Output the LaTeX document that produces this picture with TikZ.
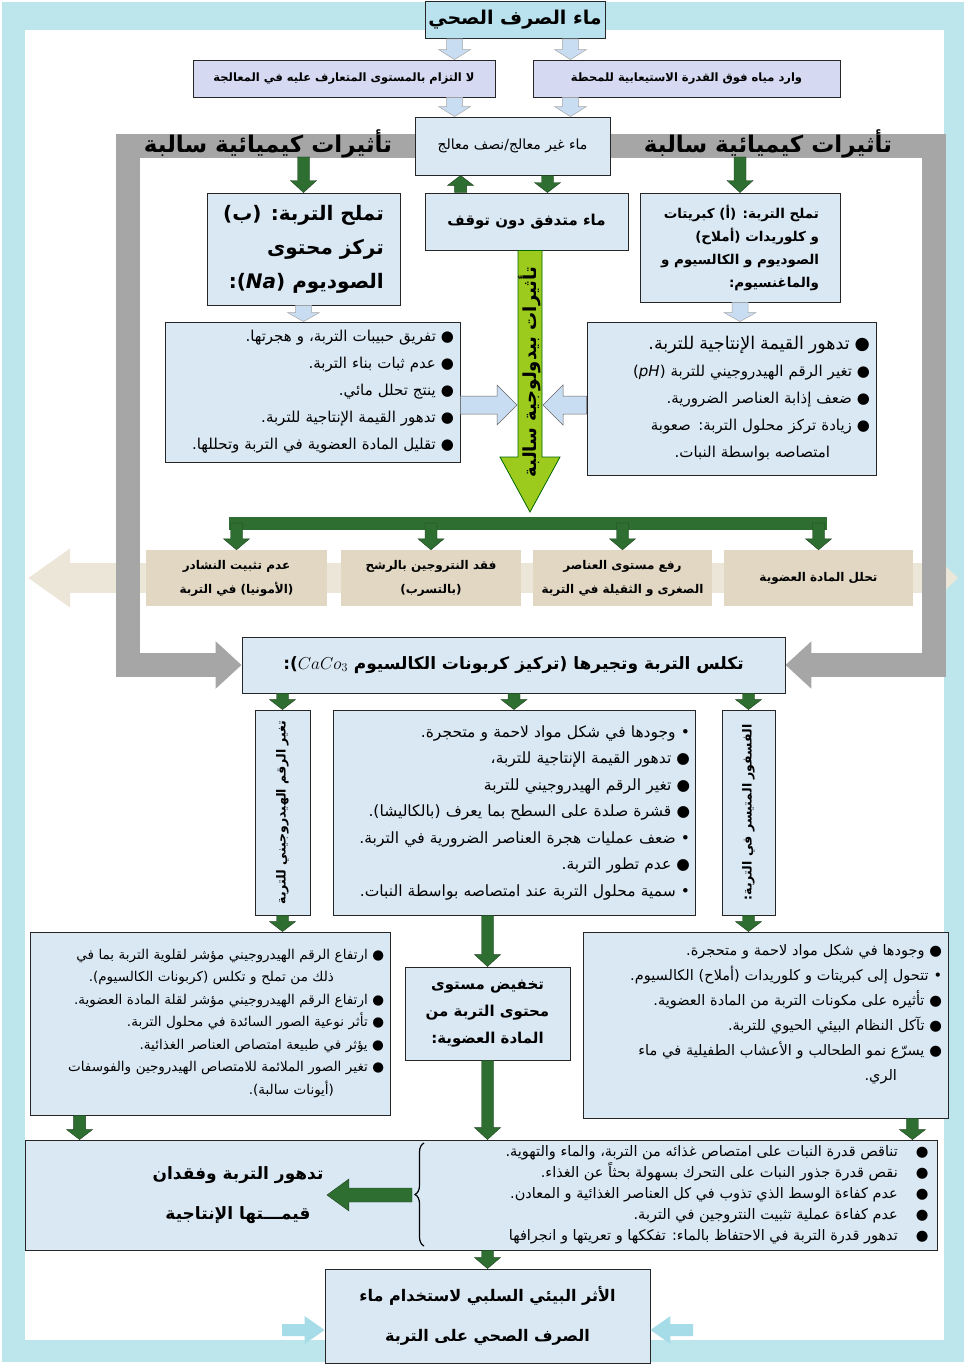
\documentclass[tikz,border=0pt]{standalone}
\usepackage{fontspec}
\usetikzlibrary{arrows.meta,calc,decorations.pathreplacing}
\newfontfamily\arabicfont[Script=Arabic]{DejaVu Sans}
\TeXXeTstate=1
\newcommand\ar[1]{\beginR #1\endR}
% vertical block arrow: style, from, to, half shaft, half head, signed head length
\newcommand\varr[6]{\draw[#1] let \p1=(#2), \p2=(#3) in (\x1-#4,\y1) -- (\x1-#4,\y2#6) -- (\x1-#5,\y2#6) -- (\x1,\y2) -- (\x1+#5,\y2#6) -- (\x1+#4,\y2#6) -- (\x1+#4,\y1) -- cycle;}
% horizontal block arrow
\newcommand\harr[6]{\draw[#1] let \p1=(#2), \p2=(#3) in (\x1,\y1-#4) -- (\x2#6,\y1-#4) -- (\x2#6,\y1-#5) -- (\x2,\y1) -- (\x2#6,\y1+#5) -- (\x2#6,\y1+#4) -- (\x1,\y1+#4) -- cycle;}
\definecolor{framecyan}{HTML}{BDE5EC}
\definecolor{boxblue}{HTML}{DAE8F4}
\definecolor{lavbox}{HTML}{D5DAF2}
\definecolor{titlecyan}{HTML}{B9E2EE}
\definecolor{arrowblue}{HTML}{C9DDF2}
\definecolor{dgreen}{HTML}{2F6E31}
\definecolor{ygreen}{HTML}{9CCB1E}
\definecolor{bandgrey}{HTML}{A6A6A6}
\definecolor{beigebox}{HTML}{E1D7C3}
\definecolor{beigearr}{HTML}{ECE6D8}
\definecolor{sidecyan}{HTML}{A6DCE7}
\pgfdeclarelayer{bg}
\pgfsetlayers{bg,main}
\tikzset{
  box/.style={draw=black!85, line width=0.9pt, fill=boxblue, inner sep=3pt},
  lba/.style={fill=arrowblue, draw=black!35, line width=0.5pt},
  ga/.style={fill=dgreen, draw=dgreen!60!black, line width=0.4pt},
  ya/.style={fill=ygreen, draw=black!60!green, line width=0.8pt},
  sa/.style={fill=sidecyan, draw=none},
  beige/.style={fill=beigebox, draw=none, minimum height=56pt, align=center,
    font=\arabicfont\bfseries\fontsize{12}{24}\selectfont},
  bandlabel/.style={font=\arabicfont\bfseries\fontsize{23}{26}\selectfont, text=black},
  vbox/.style={box, rotate=90, minimum width=205pt, font=\arabicfont\bfseries\fontsize{12.5}{14}\selectfont},
}
\begin{document}
\begin{tikzpicture}[x=1pt,y=-1pt]
\useasboundingbox (0,0) rectangle (966,1364);

% ---------- nodes ----------
\node[box, fill=titlecyan, minimum width=180pt, minimum height=37pt,
  font=\arabicfont\bfseries\fontsize{19}{22}\selectfont] (top) at (515,20) {\ar{ماء الصرف الصحي}};
\node[box, fill=lavbox, minimum width=302pt, minimum height=37pt,
  font=\arabicfont\bfseries\fontsize{11.5}{14}\selectfont] (r1L) at (344,78.5) {\ar{لا التزام بالمستوى المتعارف عليه في المعالجة}};
\node[box, fill=lavbox, minimum width=307pt, minimum height=37pt,
  font=\arabicfont\bfseries\fontsize{11.5}{14}\selectfont] (r1R) at (686.5,78.5) {\ar{وارد مياه فوق القدرة الاستيعابية للمحطة}};
\node[box, minimum width=195pt, minimum height=58pt,
  font=\arabicfont\fontsize{14}{16}\selectfont] (cen) at (512.5,146) {\ar{ماء غير معالج/نصف معالج}};

\node[box, minimum width=193pt, minimum height=112pt, align=right,
  font=\arabicfont\bfseries\fontsize{20}{34}\selectfont] (r2L) at (303.5,249)
  {\ar{تملح التربة: (ب)}\\\ar{تركز محتوى}\\\ar{الصوديوم (\beginL\textit{Na}\endL):}};
\node[box, minimum width=203pt, minimum height=57pt,
  font=\arabicfont\bfseries\fontsize{15}{18}\selectfont] (r2C) at (526.5,221.5) {\ar{ماء متدفق دون توقف}};
\node[box, minimum width=200pt, minimum height=109pt, align=right,
  font=\arabicfont\bfseries\fontsize{13.5}{23}\selectfont] (r2R) at (740,247.5)
  {\ar{تملح التربة: (أ) كبريتات}\\\ar{و كلوريدات (أملاح)}\\\ar{الصوديوم و الكالسيوم و}\\\ar{والماغنسيوم:}};

\node[box, minimum width=295pt, minimum height=140pt, text width=283pt, align=right,
  font=\arabicfont\fontsize{15}{27}\selectfont] (b1L) at (312.5,392)
  {\ar{● تفريق حبيبات التربة، و هجرتها.}\\
   \ar{● عدم ثبات بناء التربة.}\\
   \ar{● ينتج تحلل مائي.}\\
   \ar{● تدهور القيمة الإنتاجية للتربة.}\\
   \ar{● تقليل المادة العضوية في التربة وتحللها.}};
\node[box, minimum width=289pt, minimum height=153pt, text width=277pt, align=right,
  font=\arabicfont\fontsize{15}{27}\selectfont] (b1R) at (731.5,398.5)
  {\ar{{\fontsize{17.5}{27}\selectfont ● تدهور القيمة الإنتاجية للتربة.}}\\
   \ar{● تغير الرقم الهيدروجيني للتربة (\beginL\textit{pH}\endL)}\\
   \ar{● ضعف إذابة العناصر الضرورية.}\\
   \ar{● زيادة تركز محلول التربة: صعوبة}\\
   \ar{\hspace*{40pt}امتصاصه بواسطة النبات.}};

\node[beige, minimum width=181pt] (e1) at (236.5,578) {\ar{عدم تثبيت النشادر}\\\ar{(الأمونيا) في التربة}};
\node[beige, minimum width=180pt] (e2) at (431,578) {\ar{فقد النتروجين بالرشح}\\\ar{(بالتسرب)}};
\node[beige, minimum width=179pt] (e3) at (622.5,578) {\ar{رفع مستوى العناصر}\\\ar{الصغرى و الثقيلة في التربة}};
\node[beige, minimum width=189pt] (e4) at (818.5,578) {\ar{تحلل المادة العضوية}};

\node[box, minimum width=543pt, minimum height=56pt,
  font=\arabicfont\bfseries\fontsize{17}{20}\selectfont] (calc) at (513.5,665)
  {\ar{تكلس التربة وتجيرها (تركيز كربونات الكالسيوم \beginL$CaCo_3$\endL):}};

\node[vbox, minimum height=55pt] (vL) at (282.5,812.5) {\ar{تغير الرقم الهيدروجيني للتربة}};
\node[box, minimum width=362pt, minimum height=205pt, text width=352pt, align=right,
  font=\arabicfont\fontsize{15.5}{26.5}\selectfont] (vC) at (514,812.5)
  {\ar{• وجودها في شكل مواد لاحمة و متحجرة.}\\
   \ar{● تدهور القيمة الإنتاجية للتربة،}\\
   \ar{● تغير الرقم الهيدروجيني للتربة}\\
   \ar{● قشرة صلدة على السطح بما يعرف (بالكاليشا).}\\
   \ar{• ضعف عمليات هجرة العناصر الضرورية في التربة.}\\
   \ar{● عدم تطور التربة.}\\
   \ar{• سمية محلول التربة عند امتصاصه بواسطة النبات.}};
\node[vbox, minimum height=53pt] (vR) at (748.5,812.5) {\ar{الفسفور المتيسر في التربة:}};

\node[box, minimum width=360pt, minimum height=183pt, text width=348pt, align=right,
  font=\arabicfont\fontsize{13.5}{22.5}\selectfont] (bL) at (210,1023.5)
  {\ar{● ارتفاع الرقم الهيدروجيني مؤشر لقلوية التربة بما في}\\
   \ar{\hspace*{50pt}ذلك من تملح و تكلس (كربونات الكالسيوم).}\\
   \ar{● ارتفاع الرقم الهيدروجيني مؤشر لقلة المادة العضوية.}\\
   \ar{● تأثر نوعية الصور السائدة في محلول التربة.}\\
   \ar{● يؤثر في طبيعة امتصاص العناصر الغذائية.}\\
   \ar{● تغير الصور الملائمة للامتصاص الهيدروجين والفوسفات}\\
   \ar{\hspace*{50pt}(أيونات سالبة).}};
\node[box, minimum width=165pt, minimum height=93pt, align=center,
  font=\arabicfont\bfseries\fontsize{15}{27}\selectfont] (bC) at (487.5,1013.5)
  {\ar{تخفيض مستوى}\\\ar{محتوى التربة من}\\\ar{المادة العضوية:}};
\node[box, minimum width=365pt, minimum height=186pt, text width=353pt, align=right,
  font=\arabicfont\fontsize{14.5}{25}\selectfont] (bR) at (765.5,1025)
  {\ar{● وجودها في شكل مواد لاحمة و متحجرة.}\\
   \ar{• تتحول إلى كبريتات و كلوريدات (أملاح) الكالسيوم.}\\
   \ar{● تأثيره على مكونات التربة من المادة العضوية.}\\
   \ar{● تآكل النظام البيئي الحيوي للتربة.}\\
   \ar{● يسرّع نمو الطحالب و الأعشاب الطفيلية في ماء}\\
   \ar{\hspace*{45pt}الري.}\\
   \mbox{}};

\node[box, minimum width=912pt, minimum height=110pt] (big) at (481,1195) {};
\node[font=\arabicfont\bfseries\fontsize{17}{40}\selectfont, align=center] (bigT) at (238,1195)
  {\ar{تدهور التربة وفقدان}\\\ar{قيمـــتها الإنتاجية}};
\node[anchor=east, align=right, font=\arabicfont\fontsize{14.5}{21}\selectfont] (bigB) at (932,1195)
  {\ar{●\hspace{18pt}تناقص قدرة النبات على امتصاص غذائه من التربة، والماء والتهوية.}\\
   \ar{●\hspace{18pt}نقص قدرة جذور النبات على التحرك بسهولة بحثاً عن الغذاء.}\\
   \ar{●\hspace{18pt}عدم كفاءة الوسط الذي تذوب في كل العناصر الغذائية و المعادن.}\\
   \ar{●\hspace{18pt}عدم كفاءة عملية تثبيت النتروجين في التربة.}\\
   \ar{●\hspace{18pt}تدهور قدرة التربة في الاحتفاظ بالماء: تفككها و تعريتها و انجرافها}};

\node[box, minimum width=325pt, minimum height=94pt, align=center,
  font=\arabicfont\bfseries\fontsize{16}{40}\selectfont] (final) at (487.5,1316)
  {\ar{الأثر البيئي السلبي لاستخدام ماء}\\\ar{الصرف الصحي على التربة}};

% ---------- helper coordinates ----------
\coordinate (bgl) at (28,578);
\coordinate (bgr) at (958,578);
\coordinate (gl) at (128,400);
\coordinate (gr) at (934,400);
\coordinate (gb) at (512,157);
\coordinate (cbar) at (512,523);
\coordinate (a1) at ([xshift=30pt]top.south west);
\coordinate (a2) at ([xshift=-35pt]top.south east);
\coordinate (uc) at ([xshift=36pt]r2C.north west);
\coordinate (dc) at ([xshift=35pt]cen.south);
\coordinate (ystart) at ([xshift=3.5pt]r2C.south);
\coordinate (yend) at (530,512);
\coordinate (yaL) at (517,405);
\coordinate (yaR) at (543,405);
\coordinate (bl1) at ([xshift=50pt]bL.south west);
\coordinate (br0) at ([xshift=-36pt]bR.south east);
\coordinate (brb) at (424,1246);
\coordinate (brt) at (424,1143);
\coordinate (brtip) at (412,1195);
\coordinate (fl) at (282,1330);
\coordinate (fr) at (693,1330);

% ---------- background ----------
\begin{pgfonlayer}{bg}
\fill[framecyan] (2,2) rectangle (964,1362);
\fill[white] (25,30) rectangle (944,1340);
\draw[beigearr, line width=30pt, {Triangle[width=56pt,length=42pt]}-{Triangle[width=56pt,length=30pt]}] (bgl) -- (bgr);
\draw[bandgrey, line width=24pt, -{Triangle[width=46pt,length=26pt]}] (cen.west) -| (gl) |- (calc.west);
\draw[bandgrey, line width=24pt, -{Triangle[width=46pt,length=26pt]}] (cen.east) -| (gr) |- (calc.east);
\end{pgfonlayer}

\node[bandlabel] (lbL) at (268,144) {\ar{تأثيرات كيميائية سالبة}};
\node[bandlabel] (lbR) at (768,144) {\ar{تأثيرات كيميائية سالبة}};

% ---------- light blue arrows ----------
\varr{lba}{a1}{a1 |- r1L.north}{8pt}{16pt}{+10pt}
\varr{lba}{a2}{a2 |- r1R.north}{8pt}{16pt}{+10pt}
\varr{lba}{a1 |- r1L.south}{a1 |- cen.north}{8pt}{16pt}{+10pt}
\varr{lba}{a2 |- r1R.south}{a2 |- cen.north}{8pt}{16pt}{+10pt}
\varr{lba}{r2L.south}{r2L.south |- b1L.north}{8pt}{16pt}{+9pt}
\varr{lba}{r2R.south}{r2R.south |- b1R.north}{8pt}{16pt}{+9pt}

% ---------- green arrows ----------
\varr{ga}{r2L.north |- gb}{r2L.north}{6pt}{13pt}{+12pt}
\varr{ga}{r2R.north |- gb}{r2R.north}{6pt}{13pt}{+12pt}
\varr{ga}{uc}{uc |- cen.south}{6pt}{13pt}{-10pt}
\varr{ga}{dc}{dc |- r2C.north}{6pt}{13pt}{+10pt}

% yellow-green pedological arrow
\varr{ya}{ystart}{ystart |- yend}{12pt}{30pt}{+55pt}
\node[rotate=90, font=\arabicfont\bfseries\fontsize{18}{20}\selectfont] (ylab) at (530,372) {\ar{تأثيرات بيدولوجية سالبة}};

% outline arrows into the yellow arrow
\harr{lba, draw=black!60}{b1L.east |- yaL}{yaL}{9pt}{20pt}{-20pt}
\harr{lba, draw=black!60}{b1R.west |- yaR}{yaR}{9pt}{20pt}{+20pt}

% comb
\draw[dgreen, line width=13pt, shorten <=-8pt, shorten >=-8pt] (e1.north |- cbar) -- (e4.north |- cbar);
\varr{ga}{e1.north |- cbar}{e1.north}{6pt}{13pt}{+11pt}
\varr{ga}{e2.north |- cbar}{e2.north}{6pt}{13pt}{+11pt}
\varr{ga}{e3.north |- cbar}{e3.north}{6pt}{13pt}{+11pt}
\varr{ga}{e4.north |- cbar}{e4.north}{6pt}{13pt}{+11pt}

% calc arrows (vL, vR are rotated: east = top, west = bottom)
\varr{ga}{vL.east |- calc.south}{vL.east}{6pt}{13pt}{+10pt}
\varr{ga}{vC.north |- calc.south}{vC.north}{6pt}{13pt}{+10pt}
\varr{ga}{vR.east |- calc.south}{vR.east}{6pt}{13pt}{+10pt}
\varr{ga}{vL.west}{vL.west |- bL.north}{6pt}{13pt}{+10pt}
\varr{ga}{vR.west}{vR.west |- bR.north}{6pt}{13pt}{+10pt}
\varr{ga}{bC.north |- vC.south}{bC.north}{6pt}{13pt}{+12pt}
\varr{ga}{bC.south}{bC.south |- big.north}{6pt}{13pt}{+12pt}
\varr{ga}{bl1}{bl1 |- big.north}{6pt}{13pt}{+10pt}
\varr{ga}{br0}{br0 |- big.north}{6pt}{13pt}{+10pt}
\varr{ga}{final.north |- big.south}{final.north}{6pt}{13pt}{+11pt}

% brace and arrow inside the big box
\draw[decorate, decoration={brace, amplitude=9pt}, line width=1.2pt] (brb) -- (brt);
\harr{ga}{brtip}{bigT.east}{7pt}{16pt}{+22pt}

% side cyan arrows at the bottom
\harr{sa}{fl}{final.west |- fl}{6pt}{14pt}{-20pt}
\harr{sa}{fr}{final.east |- fr}{6pt}{14pt}{+20pt}
\end{tikzpicture}
\end{document}
